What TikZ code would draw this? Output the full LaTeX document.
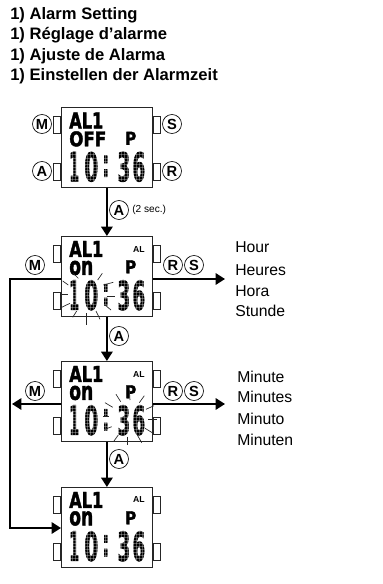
\documentclass[tikz,border=0pt]{standalone}
\usepackage{fontspec}
\setmainfont{Liberation Sans}
\newfontfamily\lcdfont{DejaVu Sans}[BoldFeatures={FakeBold=2}]
\usetikzlibrary{arrows.meta, calc}

\tikzset{
  watchbody/.style={draw=black!85, line width=0.6pt, fill=white, minimum width=68.25pt, minimum height=60pt, inner sep=0pt, anchor=north west},
  watchbutton/.style={draw=black!85, line width=0.5pt, fill=white, minimum width=5.6pt, minimum height=12.75pt, inner sep=0pt},
  keylabel/.style={draw, circle, line width=0.5pt, minimum size=14.25pt, inner sep=0pt, font=\fontsize{11}{11}\selectfont\bfseries},
  heading/.style={anchor=base west, inner sep=0pt, font=\fontsize{12.45}{14}\selectfont\bfseries},
  sidelabel/.style={anchor=base west, inner sep=0pt, font=\fontsize{11.8}{14}\selectfont},
  alarmflag/.style={inner sep=0pt, font=\fontsize{6.5}{7}\selectfont\bfseries},
  flow/.style={line width=1.5pt, -{Triangle[length=7pt,width=8.5pt]}},
  spark/.style={line width=0.5pt, black!85},
  lcdtext/.style={inner sep=0pt, anchor=north west, font=\lcdfont\bfseries},
}

% lcd text squeezed to a box: name, left, top, width, height, text
\newcommand{\lcdtxt}[6]{%
  \node[lcdtext] (#1) at (#2,#3) {\resizebox{\dimexpr#4pt*3/4\relax}{\dimexpr#5pt*3/4\relax}{#6}};
}

% watch: name, top, second line
\newcommand{\watchface}[3]{%
  \node[watchbody] (#1) at (61,#2) {};
  \node[watchbutton, anchor=east] (#1bm) at ($(#1.north west)+(0,17.7)$) {};
  \node[watchbutton, anchor=east] (#1ba) at ($(#1.north west)+(0,64.5)$) {};
  \node[watchbutton, anchor=west] (#1bs) at ($(#1.north east)+(0,17.7)$) {};
  \node[watchbutton, anchor=west] (#1br) at ($(#1.north east)+(0,64.5)$) {};
  \lcdtxt{#1a}{69}{#2+4.7}{34}{16}{AL1}
  \lcdtxt{#1p}{125}{#2+24}{11}{13}{P}
  \lcdtxt{#1ta}{69}{#2+44}{10}{29.5}{1}
  \lcdtxt{#1tb}{84}{#2+44}{14}{29.5}{0}
  \lcdtxt{#1tc}{102}{#2+48}{7}{21}{:}
  \lcdtxt{#1td}{117}{#2+44}{13}{29.5}{3}
  \lcdtxt{#1te}{132}{#2+44}{13}{29.5}{6}
  \foreach \gx in {0,...,25} {
    \draw[white, opacity=0.3, line width=0.1pt] (69+\gx*3.04,#2+44) -- +(0,29.5);
  }
  \foreach \gy in {0,...,9} {
    \draw[white, opacity=0.3, line width=0.1pt] (69,#2+44+\gy*3.04) -- +(76,0);
  }
  #3
}

\begin{document}
\begin{tikzpicture}[x=0.75pt,y=-0.75pt]
  \useasboundingbox (0,0) rectangle (382,584);

  % headings
  \node[heading] (h1) at (10,20) {1) Alarm Setting};
  \node[heading] (h2) at (10,40) {1) Réglage d’alarme};
  \node[heading] (h3) at (10,60.5) {1) Ajuste de Alarma};
  \node[heading] (h4) at (10,81) {1) Einstellen der Alarmzeit};

  % watches
  \watchface{wa}{107.5}{\lcdtxt{wasec}{69}{131}{37}{15}{OFF}}
  \watchface{wb}{236}{\lcdtxt{wbsec}{69}{260.5}{24}{14}{on}
    \node[alarmflag] (wbal) at (139,250) {AL};}
  \watchface{wc}{361}{\lcdtxt{wcsec}{69}{385.5}{24}{14}{on}
    \node[alarmflag] (wcal) at (139,375) {AL};}
  \watchface{wd}{487}{\lcdtxt{wdsec}{69}{511}{24}{14}{on}
    \node[alarmflag] (wdal) at (139,500) {AL};}

  % first watch keys
  \node[keylabel] (km) at (42,124) {M};
  \node[keylabel] (ka) at (42,171) {A};
  \node[keylabel] (ks) at (172,124) {S};
  \node[keylabel] (kr) at (172,171) {R};

  % arrows between watches
  \draw[flow] (wa.south) -- (wb.north);
  \draw[flow] (wb.south) -- (wc.north);
  \draw[flow] (wc.south) -- (wd.north);
  \node[keylabel] (ka1) at (119,210) {A};
  \node[anchor=west, inner sep=0pt, font=\fontsize{7.6}{9}\selectfont] (sec) at (132,209.5) {(2 sec.)};
  \node[keylabel] (ka2) at (119,336) {A};
  \node[keylabel] (ka3) at (119,459) {A};

  % hour row
  \node[keylabel] (km2) at (35,265) {M};
  \node[keylabel] (kr2) at (173,265) {R};
  \node[keylabel] (ks2) at (194,265) {S};
  \coordinate (bl) at (wb.west |- 0,279);
  \coordinate (br) at (wb.east |- 0,279);
  \coordinate (be) at (225,279);
  \coordinate (c1) at (10,279);
  \coordinate (c2) at (10,528);
  \coordinate (dl) at (wd.west |- 0,528);
  \draw[flow] (bl) -- (c1) -- (c2) -- (dl);
  \draw[flow] (br) -- (be);

  % minute row
  \node[keylabel] (km3) at (35,391) {M};
  \node[keylabel] (kr3) at (173,391) {R};
  \node[keylabel] (ks3) at (194,391) {S};
  \coordinate (cl) at (wc.west |- 0,404);
  \coordinate (cr) at (wc.east |- 0,404);
  \coordinate (ce) at (225,404);
  \coordinate (cb) at (12,404);
  \draw[flow] (cl) -- (cb);
  \draw[flow] (cr) -- (ce);

  % flashing marks
  \foreach \xa/\ya/\xb/\yb in {73.3/273.3/78.3/278.3, 102.3/273.3/97.7/280, 62.7/281/68.3/285,
    103.3/285/113.3/282.3, 61/294/67.7/294, 106.7/296.7/115/296.7, 61.7/307.3/70/303.3,
    105/305/111/310, 72.7/317.3/76.7/311, 86/313.3/86/325, 96/311/100/319.3} {
    \draw[spark] (\xa,\ya) -- (\xb,\yb);
  }
  \foreach \xa/\ya/\xb/\yb in {105/402.7/112.7/407.3, 116/394.3/120.7/401.7, 129.3/390/130/400,
    144.3/395.7/139.3/402.7, 146/409.3/154/405.7, 148.3/419.3/156.7/419.3, 145/428.3/153.3/433.3,
    137.3/435/141.7/442.7, 127.3/436.7/127.3/445, 118.3/435/114/441, 105/429.3/111.7/426.7,
    103.3/416.7/109.3/416.7} {
    \draw[spark] (\xa,\ya) -- (\xb,\yb);
  }

  % side labels
  \node[sidelabel] (l1) at (235,252.7) {Hour};
  \node[sidelabel] (l2) at (235,275) {Heures};
  \node[sidelabel] (l3) at (235,296) {Hora};
  \node[sidelabel] (l4) at (235,316.7) {Stunde};
  \node[sidelabel] (l5) at (237,382) {Minute};
  \node[sidelabel] (l6) at (237,402.7) {Minutes};
  \node[sidelabel] (l7) at (237,424) {Minuto};
  \node[sidelabel] (l8) at (237,445) {Minuten};
\end{tikzpicture}
\end{document}
